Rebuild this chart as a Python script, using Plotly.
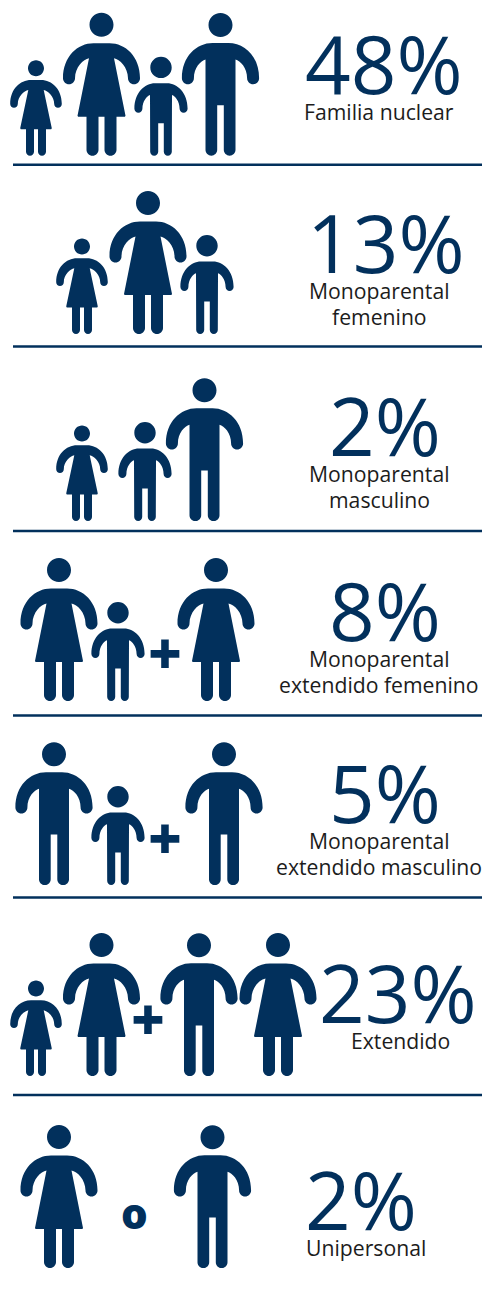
import plotly.graph_objects as go

NAVY = "#02305c"
INK = "#1c1c1c"

# ---- data ----
categories = ["Familia nuclear", "Monoparental<br>femenino", "Monoparental<br>masculino",
              "Monoparental<br>extendido femenino", "Monoparental<br>extendido masculino",
              "Extendido", "Unipersonal"]
percent_values = [48, 13, 2, 8, 5, 23, 2]
members = [
    ["girl", "woman", "boy", "man"],
    ["girl", "woman", "boy"],
    ["girl", "boy", "man"],
    ["woman", "boy", "+", "woman"],
    ["man", "boy", "+", "man"],
    ["girl", "woman", "+", "man", "woman"],
    ["woman", "o", "man"],
]

# ---- layout (pixels in the 482x1294 page) ----
member_x = [
    [36, 101.5, 161, 220.5],
    [82, 148, 207],
    [82, 145, 204.5],
    [59, 118, 165, 216],
    [54, 118, 165, 224],
    [36, 101.5, 148, 199, 278],
    [59, 134, 212.5],
]
row_bottom = [155.7, 334, 521, 701, 885, 1076, 1268]
glyph_y = [None, None, None, 652, 837, 1018, 1212]
pct_xy = [(384, 62), (385.5, 241), (384.5, 424), (385, 609), (385, 791), (397.5, 991), (360.5, 1198)]
label_xy = [(379, 111), (379.5, 290.5), (379, 473.5), (379, 658.5), (379, 840.5), (400, 1040), (365.5, 1247)]
LINE_GAP = 25.5
rule_y = [164.7, 346.5, 531, 715.5, 897.5, 1095]

K = 0.5523


def circle(cx, cy, r):
    d = K * r
    return (f"M{cx-r},{cy} C{cx-r},{cy-d} {cx-d},{cy-r} {cx},{cy-r} "
            f"C{cx+d},{cy-r} {cx+r},{cy-d} {cx+r},{cy} "
            f"C{cx+r},{cy+d} {cx+d},{cy+r} {cx},{cy+r} "
            f"C{cx-d},{cy+r} {cx-r},{cy+d} {cx-r},{cy} Z")


def build(kind):
    P = {
        "woman": dict(h=143, hr=12, hy=12, sh=30.5, aw=38.5, ab=71.5, at=12, px=12.5, py=45.5, skw=24, skb=104,
                      lo=15, li=3, cr=None, flat=8),
        "man": dict(h=143, hr=12, hy=12.3, sh=30.3, aw=38.6, ab=71.5, at=12, px=15, py=46.8, skw=None, skb=None,
                    lo=15, li=3.3, cr=92.5, flat=8),
        "girl": dict(h=95.4, hr=8, hy=8, sh=19.7, aw=25.8, ab=47.4, at=7.6, px=7.7, py=29.7, skw=15.8, skb=69,
                     lo=10, li=2, cr=None, flat=5),
        "boy": dict(h=99, hr=10.7, hy=10.7, sh=26.6, aw=26.6, ab=56, at=8, px=11, py=38.3, skw=None, skb=None,
                    lo=10.8, li=2.8, cr=66.6, flat=6),
    }[kind]
    return P


def icon_paths(kind, cx, bottom):
    p = build(kind)
    top = bottom - p["h"]
    X = lambda v: round(cx + v, 2)
    Y = lambda v: round(top + v, 2)
    aw, at, ab, sh, fl = p["aw"], p["at"], p["ab"], p["sh"], p["flat"]
    r = at / 2
    ey = ab - r
    inner = aw - at
    dr = r * K
    out = [f"M{X(-aw)},{Y(ey)}",
           f"C{X(-aw)},{Y(ey-(ey-sh)*0.62)} {X(-aw*0.62)},{Y(sh)} {X(-fl)},{Y(sh)}",
           f"L{X(fl)},{Y(sh)}",
           f"C{X(aw*0.62)},{Y(sh)} {X(aw)},{Y(ey-(ey-sh)*0.62)} {X(aw)},{Y(ey)}",
           f"C{X(aw)},{Y(ey+dr)} {X(aw-r+dr)},{Y(ab)} {X(aw-r)},{Y(ab)}",
           f"C{X(aw-r-dr)},{Y(ab)} {X(inner)},{Y(ey+dr)} {X(inner)},{Y(ey)}",
           f"C{X(inner)},{Y(ey-(ey-p['py'])*0.55)} {X(p['px']+(inner-p['px'])*0.4)},{Y(p['py']+1)} {X(p['px'])},{Y(p['py'])}"]
    h, lo, li = p["h"], p["lo"], p["li"]
    lr = (lo - li) / 2
    ld = lr * K

    def leg_r():
        return [f"L{X(lo)},{Y(h-lr)}",
                f"C{X(lo)},{Y(h-lr+ld)} {X(lo-lr+ld)},{Y(h)} {X(lo-lr)},{Y(h)}",
                f"C{X(lo-lr-ld)},{Y(h)} {X(li)},{Y(h-lr+ld)} {X(li)},{Y(h-lr)}"]

    def leg_l():
        return [f"L{X(-li)},{Y(h-lr)}",
                f"C{X(-li)},{Y(h-lr+ld)} {X(-li-lr+ld)},{Y(h)} {X(-li-lr)},{Y(h)}",
                f"C{X(-li-lr-ld)},{Y(h)} {X(-lo)},{Y(h-lr+ld)} {X(-lo)},{Y(h-lr)}"]

    if p["skw"]:
        skw, skb = p["skw"], p["skb"]
        out += [f"L{X(skw)},{Y(skb-1)}", f"L{X(skw-0.6)},{Y(skb)}", f"L{X(lo)},{Y(skb)}"]
        out += leg_r()
        out += [f"L{X(li)},{Y(skb)}", f"L{X(-li)},{Y(skb)}"]
        out += leg_l()
        out += [f"L{X(-lo)},{Y(skb)}", f"L{X(-skw+0.6)},{Y(skb)}", f"L{X(-skw)},{Y(skb-1)}"]
    else:
        out += leg_r()
        out += [f"L{X(li)},{Y(p['cr'])}", f"L{X(-li)},{Y(p['cr'])}"]
        out += leg_l()
    out += [f"L{X(-p['px'])},{Y(p['py'])}",
            f"C{X(-p['px']-(inner-p['px'])*0.4)},{Y(p['py']+1)} {X(-inner)},{Y(ey-(ey-p['py'])*0.55)} {X(-inner)},{Y(ey)}",
            f"C{X(-inner)},{Y(ey+dr)} {X(-aw+r+dr)},{Y(ab)} {X(-aw+r)},{Y(ab)}",
            f"C{X(-aw+r-dr)},{Y(ab)} {X(-aw)},{Y(ey+dr)} {X(-aw)},{Y(ey)} Z"]
    return " ".join(out) + " " + circle(cx, top + p["hy"], p["hr"])


fig = go.Figure(go.Scatter(x=[], y=[], hoverinfo="skip"))
shapes, notes = [], []

for row, names in enumerate(members):
    for name, cx in zip(names, member_x[row]):
        if name in ("+", "o"):
            notes.append(dict(x=cx, y=glyph_y[row], text=name,
                              font=dict(family="Open Sans", weight=800, size=58 if name == "+" else 42, color=NAVY)))
        else:
            shapes.append(dict(type="path", xref="x", yref="y", path=icon_paths(name, cx, row_bottom[row]),
                               fillcolor=NAVY, line=dict(width=0)))

for y in rule_y:
    shapes.append(dict(type="line", xref="x", yref="y", x0=13, x1=482, y0=y, y1=y,
                       line=dict(color=NAVY, width=2.6)))

for val, (x, y) in zip(percent_values, pct_xy):
    notes.append(dict(x=x, y=y, text=f"{val}%", font=dict(family="Open Sans", size=80, color=NAVY)))
for label, (x, y) in zip(categories, label_xy):
    for i, line in enumerate(label.split("<br>")):
        notes.append(dict(x=x, y=y + i * LINE_GAP, text=line, font=dict(family="Open Sans", size=21.2, color=INK)))

for n in notes:
    n.update(xref="x", yref="y", xanchor="center", yanchor="middle", showarrow=False, align="center")

fig.update_layout(
    width=482, height=1294, margin=dict(l=0, r=0, t=0, b=0),
    paper_bgcolor="white", plot_bgcolor="white", showlegend=False,
    xaxis=dict(range=[0, 482], visible=False, fixedrange=True),
    yaxis=dict(range=[1294, 0], visible=False, fixedrange=True),
    shapes=shapes, annotations=notes,
)
fig.write_html("out.html", config=dict(displayModeBar=False),
               post_script="document.body.style.margin='0';document.body.style.overflow='hidden';")
